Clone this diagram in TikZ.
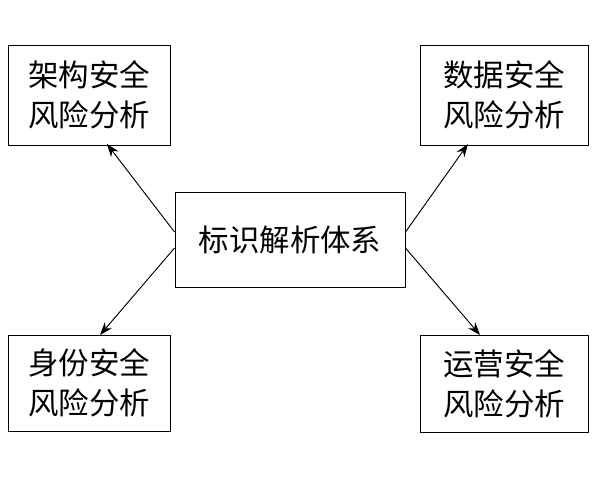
\documentclass[tikz,border=0pt]{standalone}
\usepackage{fontspec}
\newfontfamily\cjk{Noto Sans CJK SC}
\usetikzlibrary{arrows.meta}
\begin{document}
\begin{tikzpicture}[x=0.03cm,y=-0.03cm,
    box/.style={draw, thick, inner sep=0pt, font=\cjk\fontsize{26}{34}\selectfont, align=center},
    link/.style={thick, -{Stealth[length=11pt,width=8pt]}}]
        \useasboundingbox (0,0) rectangle (600,480);
        % outer boxes
        \node[box, minimum width=162*0.03cm, minimum height=100*0.03cm] (arch) at (89,95) {架构安全\\风险分析};
        \node[box, minimum width=168*0.03cm, minimum height=100*0.03cm] (data) at (504,95) {数据安全\\风险分析};
        \node[box, minimum width=162*0.03cm, minimum height=96*0.03cm] (iden) at (89,383) {身份安全\\风险分析};
        \node[box, minimum width=168*0.03cm, minimum height=97*0.03cm] (oper) at (504,384) {运营安全\\风险分析};
        % centre box
        \node[box, minimum width=230*0.03cm, minimum height=95*0.03cm] (sys) at (290,240) {标识解析体系};

        \draw[link] (sys.west) ++(0,-8) -- (107,144);
        \draw[link] (sys.east) ++(0,-8) -- (468,144);
        \draw[link] (sys.west) ++(0,8) -- (100,335);
        \draw[link] (sys.east) ++(0,8) -- (480,335);
\end{tikzpicture}
\end{document}
